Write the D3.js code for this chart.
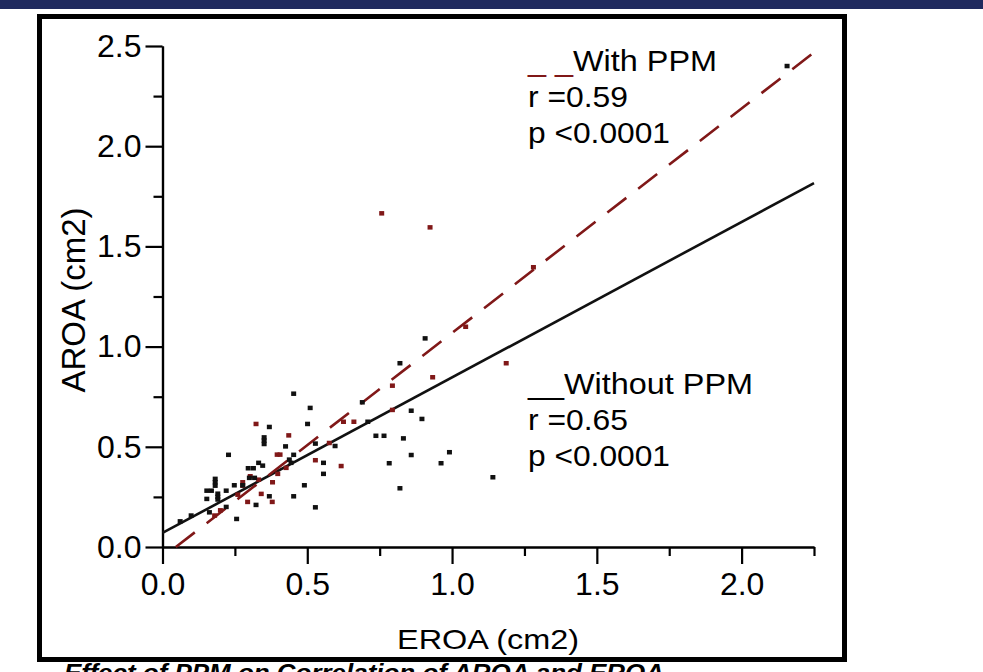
<!DOCTYPE html>
<html>
<head>
<meta charset="utf-8">
<script src="https://cdn.jsdelivr.net/npm/d3@7"></script>
<style>
    html, body { margin: 0; padding: 0; background: #fff; }
    svg { display: block; font-family: "Liberation Sans", Arial, sans-serif; }
</style>
</head>
<body>
<div id="chart"></div>
<script>
// EROA vs AROA, patients without PPM (black) and with PPM (dark red)
const withoutX = [0.453, 0.510, 0.369, 0.501, 0.351, 0.351, 0.351, 0.425, 0.528, 0.228,
    0.453, 0.332, 0.346, 0.296, 0.314, 0.438, 0.444, 0.556, 0.556, 0.182,
    0.182, 0.182, 0.300, 0.318, 0.153, 0.169, 0.248, 0.277, 0.490, 0.220,
    0.191, 0.191, 0.191, 0.153, 0.369, 0.453, 0.323, 0.220, 0.528, 0.256,
    0.162, 0.099, 0.061,
    0.907, 0.820, 0.690, 0.859, 0.896, 0.709, 0.596, 0.737, 0.765, 0.832,
    0.859, 0.991, 0.783, 0.962, 1.141, 0.820, 2.157];
const withoutY = [0.765, 0.694, 0.599, 0.614, 0.547, 0.531, 0.514, 0.502, 0.516, 0.460,
    0.460, 0.420, 0.406, 0.393, 0.393, 0.436, 0.420, 0.420, 0.365, 0.340,
    0.323, 0.306, 0.345, 0.345, 0.281, 0.281, 0.308, 0.308, 0.308, 0.281,
    0.266, 0.250, 0.237, 0.240, 0.253, 0.253, 0.210, 0.200, 0.198, 0.140,
    0.173, 0.157, 0.128,
    1.041, 0.917, 0.722, 0.680, 0.639, 0.625, 0.504, 0.555, 0.555, 0.542,
    0.459, 0.473, 0.418, 0.418, 0.348, 0.293, 2.400];

const withX = [0.323, 0.436, 0.396, 0.406, 0.576, 0.528, 0.427, 0.398, 0.380, 0.303,
    0.277, 0.277, 0.332, 0.341, 0.294, 0.379, 0.260, 0.200, 0.180,
    0.757, 0.924, 1.281, 1.047, 1.187, 0.933, 0.794, 0.794, 0.625, 0.661, 0.617];
const withY = [0.614, 0.557, 0.461, 0.461, 0.519, 0.433, 0.395, 0.365, 0.323, 0.353,
    0.323, 0.306, 0.336, 0.265, 0.225, 0.225, 0.261, 0.183, 0.157,
    1.665, 1.595, 1.396, 1.099, 0.917, 0.847, 0.805, 0.684, 0.625, 0.625, 0.404];

// regression lines [intercept, slope] and the x span they cover
const fitWithout = [0.07, 0.776];
const fitWith = [-0.052, 1.12];
const fitWithoutSpan = [0, 2.25];
const fitWithSpan = [0.046, 2.25];

const xMajor = [0, 0.5, 1.0, 1.5, 2.0];
const xMinor = [0.25, 0.75, 1.25, 1.75, 2.25];
const yMajor = [0, 0.5, 1.0, 1.5, 2.0, 2.5];
const yMinor = [0.25, 0.75, 1.25, 1.75, 2.25];

const legendWith = ['With PPM', 'r =0.59', 'p <0.0001'];
const legendWithout = ['Without PPM', 'r =0.65', 'p <0.0001'];

const xTitle = 'EROA (cm2)';
const yTitle = 'AROA (cm2)';
const caption = 'Effect of PPM on Correlation of AROA and EROA';

const config = {
    width: 983,
    height: 672,
    red: '#801818',
    ink: '#111',
    navy: '#1f2a5e',
    tickFont: 32,
    legendFont: 29,
    // stretched widths of the legend lines (the source type is wide)
    legendWithWidths: [189, 100, 142],
    legendWithoutWidths: [225, 100, 142]
};

const svg = d3.select('#chart')
    .append('svg')
    .attr('width', config.width)
    .attr('height', config.height);

// Header band and framed panel
svg.append('rect')
    .attr('width', config.width).attr('height', 9)
    .attr('fill', config.navy);

svg.append('rect')
    .attr('x', 39.5).attr('y', 16.5)
    .attr('width', 805).attr('height', 643)
    .attr('fill', '#fff')
    .attr('stroke', '#000')
    .attr('stroke-width', 5);

svg.append('text')
    .attr('x', 64).attr('y', 681)
    .attr('font-size', 24)
    .attr('font-weight', 'bold')
    .attr('font-style', 'italic')
    .attr('textLength', 600)
    .attr('lengthAdjust', 'spacingAndGlyphs')
    .text(caption);

// Scales
const x = d3.scaleLinear().domain([0, 2.25]).range([162.5, 814]);
const y = d3.scaleLinear().domain([0, 2.5]).range([547, 46]);

const styleAxis = (g) => {
    g.select('.domain').attr('stroke', '#000').attr('stroke-width', 2.2);
    g.selectAll('.tick line').attr('stroke', '#000').attr('stroke-width', 2.2);
    g.selectAll('.tick text')
        .attr('fill', '#000')
        .attr('font-size', config.tickFont)
        .attr('font-family', '"Liberation Sans", Arial, sans-serif');
};

// Minor ticks first, majors on top
svg.append('g')
    .attr('transform', `translate(0,${y(0)})`)
    .call(d3.axisBottom(x).tickValues(xMinor).tickSize(9).tickSizeOuter(0).tickFormat(''))
    .call(styleAxis);

svg.append('g')
    .attr('transform', `translate(0,${y(0)})`)
    .call(d3.axisBottom(x).tickValues(xMajor).tickSize(17).tickSizeOuter(0)
        .tickPadding(8).tickFormat(d3.format('.1f')))
    .call(styleAxis);

svg.append('g')
    .attr('transform', `translate(${x(0)},0)`)
    .call(d3.axisLeft(y).tickValues(yMinor).tickSize(9).tickSizeOuter(0).tickFormat(''))
    .call(styleAxis);

svg.append('g')
    .attr('transform', `translate(${x(0)},0)`)
    .call(d3.axisLeft(y).tickValues(yMajor).tickSize(17).tickSizeOuter(0)
        .tickPadding(4).tickFormat(d3.format('.1f')))
    .call(styleAxis);

// Axis titles
svg.append('text')
    .attr('x', 397).attr('y', 649)
    .attr('font-size', 28)
    .attr('textLength', 182)
    .attr('lengthAdjust', 'spacingAndGlyphs')
    .text(xTitle);

svg.append('text')
    .attr('transform', 'translate(85,300) rotate(-90)')
    .attr('text-anchor', 'middle')
    .attr('font-size', 33)
    .text(yTitle);

// Regression lines
const fitLine = (fit, span) => span.map(v => [x(v), y(fit[0] + fit[1] * v)]);

svg.append('path')
    .attr('d', d3.line()(fitLine(fitWithout, fitWithoutSpan)))
    .attr('stroke', config.ink)
    .attr('stroke-width', 2.6)
    .attr('fill', 'none');

svg.append('path')
    .attr('d', d3.line()(fitLine(fitWith, fitWithSpan)))
    .attr('stroke', config.red)
    .attr('stroke-width', 2.6)
    .attr('stroke-dasharray', '24,15')
    .attr('fill', 'none');

// Points
const drawPoints = (xs, ys, color) => {
    svg.append('g')
        .selectAll('rect')
        .data(xs.map((v, i) => [v, ys[i]]))
        .join('rect')
        .attr('x', d => x(d[0]) - 2.5)
        .attr('y', d => y(d[1]) - 2.25)
        .attr('width', 5)
        .attr('height', 4.5)
        .attr('fill', color);
};

drawPoints(withX, withY, config.red);
drawPoints(withoutX, withoutY, config.ink);

// Legend blocks
const drawLegend = (lines, widths, top, prefix, prefixColor) => {
    const g = svg.append('g').attr('font-size', config.legendFont);
    lines.forEach((line, i) => {
        const t = g.append('text')
            .attr('x', 528)
            .attr('y', top + i * 36)
            .attr('textLength', widths[i])
            .attr('lengthAdjust', 'spacingAndGlyphs');
        if (i === 0) {
            t.append('tspan').attr('fill', prefixColor).text(prefix);
        }
        t.append('tspan').attr('fill', '#000').text(line);
    });
};

drawLegend(legendWith, config.legendWithWidths, 71, '_ _', config.red);
drawLegend(legendWithout, config.legendWithoutWidths, 394, '__', '#000');
</script>
</body>
</html>
